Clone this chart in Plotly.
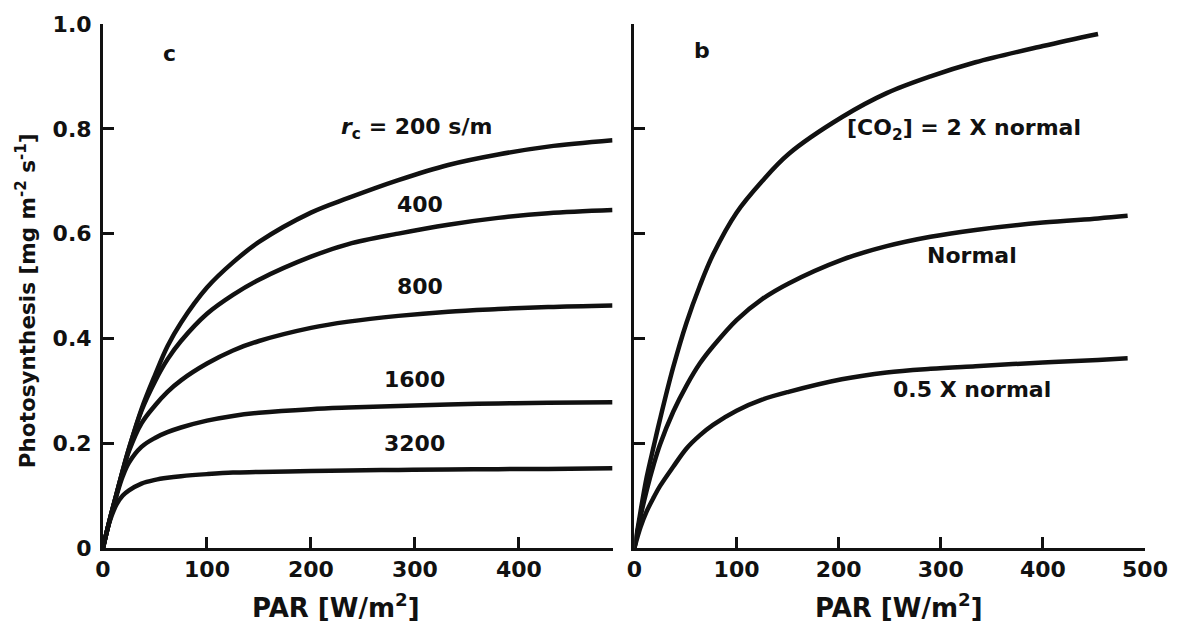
import plotly.graph_objects as go
from plotly.subplots import make_subplots

# ---- data ----
par_left = [0, 6, 13, 19, 25, 37, 50, 62, 75, 100, 125, 150, 200, 236, 284, 332, 380, 428, 490]
rc_200 = [0, 0.05, 0.103, 0.148, 0.19, 0.265, 0.33, 0.385, 0.43, 0.497, 0.545, 0.584, 0.64,
          0.668, 0.702, 0.731, 0.751, 0.766, 0.778]
rc_400 = [0, 0.05, 0.103, 0.148, 0.19, 0.262, 0.318, 0.36, 0.395, 0.447, 0.483, 0.512, 0.556,
          0.58, 0.60, 0.617, 0.630, 0.639, 0.645]
rc_800 = [0, 0.05, 0.103, 0.146, 0.185, 0.238, 0.272, 0.298, 0.32, 0.352, 0.377, 0.395, 0.42,
          0.432, 0.443, 0.451, 0.456, 0.460, 0.463]
rc_1600 = [0, 0.05, 0.10, 0.137, 0.163, 0.193, 0.21, 0.221, 0.23, 0.243, 0.252, 0.258, 0.265,
           0.268, 0.271, 0.274, 0.276, 0.277, 0.278]
rc_3200 = [0, 0.048, 0.083, 0.10, 0.11, 0.123, 0.13, 0.134, 0.137, 0.141, 0.144, 0.145, 0.147,
           0.148, 0.149, 0.150, 0.1505, 0.151, 0.152]
rc_labels = ["<i>r</i><sub>c</sub> = 200 s/m", "400", "800", "1600", "3200"]
rc_label_pos = [(301, 0.800), (305, 0.656), (305, 0.499), (300, 0.322), (300, 0.199)]

par_right = [0, 6, 12, 19, 25, 38, 51, 64, 77, 100, 125, 151, 203, 247, 290, 334, 400, 454, 483]
co2_double = [0, 0.07, 0.135, 0.195, 0.245, 0.345, 0.43, 0.50, 0.56, 0.64, 0.70, 0.752, 0.822,
              0.868, 0.90, 0.927, 0.958, 0.981]
co2_normal = [0, 0.06, 0.11, 0.16, 0.197, 0.26, 0.31, 0.352, 0.385, 0.435, 0.475, 0.505, 0.55,
              0.576, 0.594, 0.607, 0.621, 0.629, 0.634]
co2_half = [0, 0.04, 0.07, 0.097, 0.118, 0.155, 0.19, 0.215, 0.235, 0.262, 0.283, 0.298, 0.322,
            0.335, 0.342, 0.347, 0.354, 0.359, 0.362]
co2_labels = ["[CO<sub>2</sub>] = 2 X normal", "Normal", "0.5 X normal"]
co2_label_pos = [(323, 0.799), (331, 0.559), (331, 0.302)]

panel_letters = ["c", "b"]
x_ticks_left = [0, 100, 200, 300, 400]
x_ticks_right = [0, 100, 200, 300, 400, 500]
y_ticks = [0, 0.2, 0.4, 0.6, 0.8, 1.0]
y_tick_text = ["0", "0.2", "0.4", "0.6", "0.8", "1.0"]

FONT = "DejaVu Sans"
BLACK = "#111111"

fig = make_subplots(rows=1, cols=2, horizontal_spacing=0.02)

line_style = dict(color=BLACK, width=4.5, shape="spline", smoothing=1.0)
for ys in [rc_200, rc_400, rc_800, rc_1600, rc_3200]:
    fig.add_trace(go.Scatter(x=par_left, y=ys, mode="lines", line=line_style,
                             showlegend=False, hoverinfo="skip"), row=1, col=1)
for ys in [co2_double, co2_normal, co2_half]:
    fig.add_trace(go.Scatter(x=par_right[:len(ys)], y=ys, mode="lines", line=line_style,
                             showlegend=False, hoverinfo="skip"), row=1, col=2)

tickfont = dict(family=FONT, size=22, color=BLACK, weight="bold")
axis_common = dict(showgrid=False, zeroline=False, showline=True, linecolor=BLACK,
                   linewidth=3, ticks="inside", ticklen=11, tickwidth=3,
                   tickcolor=BLACK, tickfont=tickfont)

fig.update_layout(
    width=1180, height=638,
    margin=dict(l=103, r=30, t=15, b=90),
    plot_bgcolor="white", paper_bgcolor="white",
    showlegend=False,
    xaxis=dict(domain=[0, 0.489], range=[0, 490], tickvals=x_ticks_left,
               ticklabelstandoff=0, **axis_common),
    xaxis2=dict(domain=[0.510, 1], range=[0, 500], tickvals=x_ticks_right,
                ticklabelstandoff=0, **axis_common),
    yaxis=dict(range=[0, 1.0], tickvals=y_ticks, ticktext=y_tick_text,
               ticklabelstandoff=4, **axis_common),
    yaxis2=dict(range=[0, 1.0], tickvals=y_ticks, showticklabels=False,
                matches="y", **axis_common),
)

ann_font = dict(family=FONT, size=22, color=BLACK, weight="bold")
for txt, (x, y) in zip(rc_labels, rc_label_pos):
    fig.add_annotation(x=x, y=y, xref="x", yref="y", text=txt, showarrow=False,
                       font=ann_font)
for txt, (x, y) in zip(co2_labels, co2_label_pos):
    fig.add_annotation(x=x, y=y, xref="x2", yref="y2", text=txt, showarrow=False,
                       font=ann_font)

fig.add_annotation(x=64, y=0.944, xref="x", yref="y", text=panel_letters[0],
                   showarrow=False, font=ann_font)
fig.add_annotation(x=66, y=0.950, xref="x2", yref="y2", text=panel_letters[1],
                   showarrow=False, font=ann_font)

# axis titles
title_font = dict(family=FONT, size=26, color=BLACK, weight="bold")
fig.add_annotation(x=0.2235, y=-0.111, xref="paper", yref="paper",
                   text="PAR [W/m<sup>2</sup>]", showarrow=False, font=title_font,
                   xanchor="center", yanchor="middle")
fig.add_annotation(x=0.764, y=-0.111, xref="paper", yref="paper",
                   text="PAR [W/m<sup>2</sup>]", showarrow=False, font=title_font,
                   xanchor="center", yanchor="middle")
fig.add_annotation(x=0, y=0.471, xref="paper", yref="paper", xanchor="center",
                   text="Photosynthesis [mg m<sup>-2</sup> s<sup>-1</sup>]", showarrow=False,
                   textangle=-90, font=dict(family=FONT, size=21.5, color=BLACK, weight="bold"),
                   xshift=-77)

fig.write_html("out.html")
